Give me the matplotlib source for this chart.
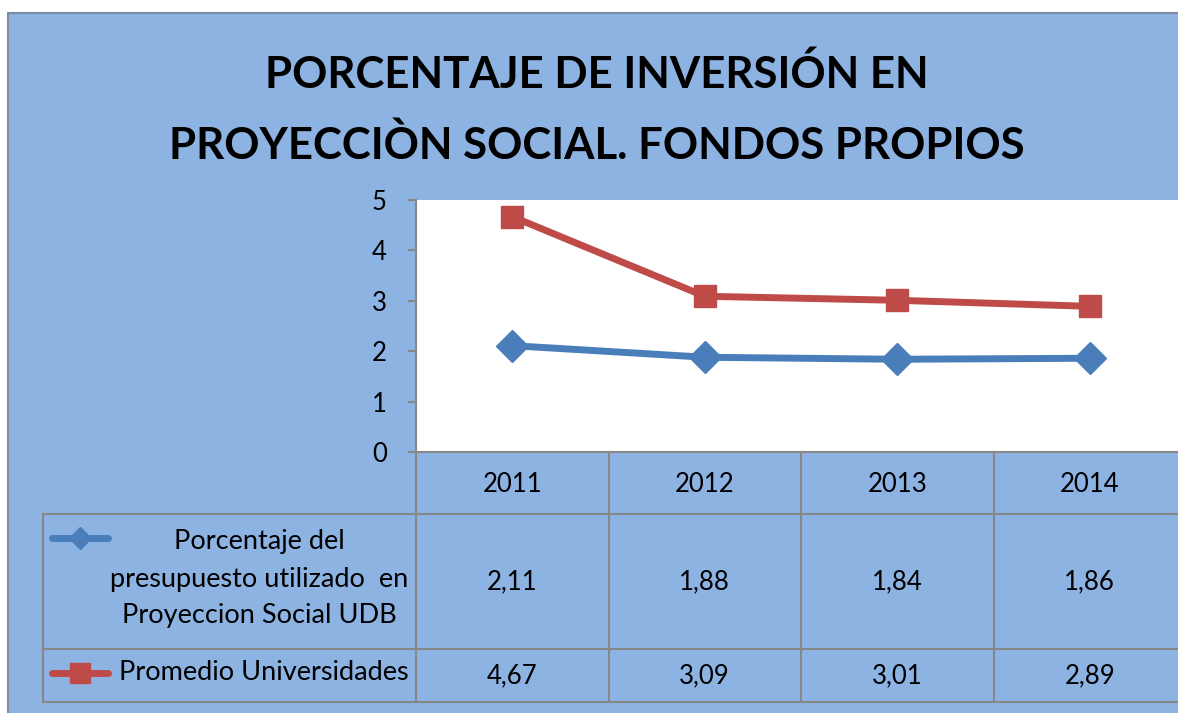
import matplotlib.pyplot as plt
from matplotlib.transforms import blended_transform_factory

# datos
years = ['2011', '2012', '2013', '2014']
udb = [2.11, 1.88, 1.84, 1.86]
promedio = [4.67, 3.09, 3.01, 2.89]
udb_label = 'Porcentaje del\npresupuesto utilizado  en\nProyeccion Social UDB'
prom_label = 'Promedio Universidades'
udb_txt = ['2,11', '1,88', '1,84', '1,86']
prom_txt = ['4,67', '3,09', '3,01', '2,89']
title_lines = ['PORCENTAJE DE INVERSIÓN EN', 'PROYECCIÒN SOCIAL. FONDOS PROPIOS']

W, H = 1178, 713
bg = '#8DB3E2'
grey = '#878787'
blue = '#4A7EBB'
red = '#BE4B48'
font = ['Lato', 'DejaVu Sans']

fig = plt.figure(figsize=(W / 100, H / 100), dpi=100)
fig.patch.set_facecolor('white')

# marco del grafico (fondo azul)
bgax = fig.add_axes([0, 0, 1, 1], zorder=-5)
bgax.set_xlim(0, W)
bgax.set_ylim(H, 0)
bgax.axis('off')
bgax.add_patch(plt.Rectangle((8, 13), W + 20, H + 20, facecolor=bg,
                             edgecolor='#7D8CA3', linewidth=1.5))

# titulo
fig.text(597 / W, 1 - 74 / H, title_lines[0], ha='center', va='center',
         fontsize=31.5, fontweight='bold', family=font)
fig.text(597 / W, 1 - 145 / H, title_lines[1], ha='center', va='center',
         fontsize=31.5, fontweight='bold', family=font)

# area de trazado: 416..1186 px, 200..452 px
left, right, top, bottom = 416, 1186, 200, 452
ax = fig.add_axes([left / W, 1 - bottom / H, (right - left) / W, (bottom - top) / H])
ax.set_facecolor('white')
x = list(range(len(years)))
ax.plot(x, udb, color=blue, lw=5, marker='D', ms=16, zorder=3)
ax.plot(x, promedio, color=red, lw=5, marker='s', ms=16, zorder=3)
ax.set_xlim(-0.5, len(years) - 0.5)
ax.set_ylim(0, 5)
ax.set_yticks(range(6))
ax.set_xticks([])
for s in ['top', 'right']:
    ax.spines[s].set_visible(False)
for s in ['left', 'bottom']:
    ax.spines[s].set_color(grey)
    ax.spines[s].set_linewidth(1.5)
ax.tick_params(axis='y', length=6, width=1.5, color=grey, pad=15, labelsize=18.5)
for lab in ax.get_yticklabels():
    lab.set_family(font)

# tabla de datos bajo el grafico
tr = blended_transform_factory(ax.transData, ax.transAxes)
hpx = bottom - top
def ya(py):
    return -(py - bottom) / hpx

px_per_cat = (right - left) / len(years)
def xd(px):
    return -0.5 + (px - left) / px_per_cat

row_y = [bottom, 514, 649, 702]
line_kw = dict(color=grey, lw=1.5, transform=tr, clip_on=False)

for i in range(len(years) + 1):
    ax.plot([i - 0.5, i - 0.5], [ya(bottom), ya(row_y[-1])], **line_kw)
for py in row_y[1:]:
    ax.plot([xd(43), len(years)], [ya(py), ya(py)], **line_kw)
ax.plot([xd(43), xd(43)], [ya(row_y[1]), ya(row_y[-1])], **line_kw)

txt_kw = dict(transform=tr, ha='center', va='center', family=font, clip_on=False)
for i, yr in enumerate(years):
    ax.text(i, ya(485), yr, fontsize=18.5, **txt_kw)
    ax.text(i, ya(582), udb_txt[i], fontsize=18.5, **txt_kw)
    ax.text(i, ya(676), prom_txt[i], fontsize=18.5, **txt_kw)

# claves de leyenda dentro de la tabla
key_kw = dict(lw=5, transform=tr, clip_on=False, solid_capstyle='round')
ax.plot([xd(52), xd(108)], [ya(538), ya(538)], color=blue, **key_kw)
ax.plot([xd(80)], [ya(538)], color=blue, marker='D', ms=11, transform=tr, clip_on=False)
ax.plot([xd(52), xd(108)], [ya(673), ya(673)], color=red, **key_kw)
ax.plot([xd(80)], [ya(673)], color=red, marker='s', ms=14, transform=tr, clip_on=False)

ax.text(xd(259), ya(579), udb_label, fontsize=19.5, linespacing=1.6, **txt_kw)
ax.text(xd(264), ya(673), prom_label, fontsize=19.5, **txt_kw)

fig.savefig('out.png', dpi=100)
